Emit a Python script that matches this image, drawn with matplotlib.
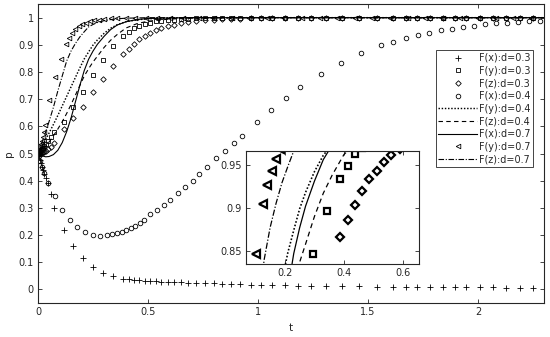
import matplotlib
matplotlib.use("Agg")
import matplotlib.pyplot as plt

plt.rcParams['font.family'] = ['DejaVu Sans']

# ---------------- data ----------------
# d = 0.3 (marker series share this time grid)
t03 = [0, 0.004, 0.008, 0.012, 0.017, 0.022, 0.028, 0.035, 0.045, 0.058, 0.074, 0.118,
       0.16, 0.203, 0.248, 0.295, 0.342, 0.387, 0.413, 0.437, 0.461, 0.486, 0.51, 0.535,
       0.56, 0.59, 0.62, 0.65, 0.684, 0.72, 0.76, 0.80, 0.837, 0.875, 0.92, 0.967, 1.015,
       1.063, 1.122, 1.182, 1.243, 1.307, 1.382, 1.461, 1.541, 1.613, 1.673, 1.724, 1.782,
       1.839, 1.895, 1.947, 2.008, 2.067, 2.126, 2.19, 2.25]
Fx03 = [0.5, 0.49, 0.477, 0.465, 0.452, 0.44, 0.425, 0.41, 0.39, 0.35, 0.30, 0.22, 0.158,
        0.115, 0.082, 0.061, 0.048, 0.040, 0.037, 0.035, 0.033, 0.032, 0.031, 0.030, 0.029,
        0.028, 0.027, 0.026, 0.025, 0.024, 0.023, 0.022, 0.021, 0.020, 0.019, 0.018, 0.017,
        0.016, 0.015, 0.014, 0.013, 0.012, 0.011, 0.011, 0.010, 0.010, 0.010, 0.009, 0.009,
        0.009, 0.008, 0.008, 0.008, 0.008, 0.007, 0.007, 0.007]
Fy03 = [0.5, 0.504, 0.508, 0.512, 0.517, 0.522, 0.528, 0.535, 0.545, 0.56, 0.578, 0.615,
        0.67, 0.726, 0.79, 0.846, 0.896, 0.934, 0.949, 0.962, 0.97, 0.977, 0.982, 0.986,
        0.989, 0.991, 0.993, 0.995, 0.996, 0.997, 0.998, 0.998, 0.999, 0.999, 0.999, 1.0,
        1.0, 1.0, 1.0, 1.0, 1.0, 1.0, 1.0, 1.0, 1.0, 1.0, 1.0, 1.0, 1.0, 1.0, 1.0, 1.0,
        1.0, 1.0, 1.0, 1.0, 1.0]
Fz03 = [0.5, 0.5, 0.501, 0.502, 0.503, 0.505, 0.507, 0.51, 0.515, 0.524, 0.54, 0.59,
        0.631, 0.673, 0.725, 0.775, 0.823, 0.866, 0.886, 0.903, 0.92, 0.933, 0.943, 0.953,
        0.961, 0.968, 0.974, 0.979, 0.983, 0.987, 0.99, 0.992, 0.994, 0.995, 0.996, 0.997,
        0.998, 0.998, 0.999, 0.999, 1.0, 1.0, 1.0, 1.0, 1.0, 1.0, 1.0, 1.0, 1.0, 1.0, 1.0,
        1.0, 1.0, 1.0, 1.0, 1.0, 1.0]

# d = 0.4, F(x) markers
t04 = [0, 0.004, 0.009, 0.017, 0.025, 0.047, 0.077, 0.11, 0.145, 0.178, 0.213, 0.248,
       0.281, 0.314, 0.337, 0.36, 0.381, 0.402, 0.422, 0.443, 0.463, 0.483, 0.511, 0.541,
       0.572, 0.602, 0.637, 0.67, 0.704, 0.734, 0.77, 0.81, 0.85, 0.89, 0.928, 0.995, 1.06,
       1.128, 1.193, 1.285, 1.377, 1.468, 1.559, 1.615, 1.672, 1.727, 1.778, 1.83, 1.88,
       1.93, 1.98, 2.03, 2.08, 2.13, 2.18, 2.23, 2.28]
Fx04 = [0.5, 0.49, 0.474, 0.452, 0.428, 0.39, 0.343, 0.293, 0.254, 0.228, 0.211, 0.202,
        0.197, 0.199, 0.204, 0.208, 0.213, 0.219, 0.226, 0.234, 0.243, 0.255, 0.276, 0.293,
        0.309, 0.33, 0.353, 0.376, 0.40, 0.425, 0.452, 0.482, 0.51, 0.538, 0.566, 0.615,
        0.661, 0.704, 0.744, 0.793, 0.835, 0.869, 0.898, 0.911, 0.924, 0.936, 0.945, 0.953,
        0.96, 0.966, 0.971, 0.975, 0.979, 0.982, 0.985, 0.987, 0.989]

# line series (sampled along the drawn curves)
tl = [0, 0.01, 0.02, 0.035, 0.05, 0.07, 0.09, 0.11, 0.13, 0.15, 0.17, 0.19, 0.21, 0.23,
      0.25, 0.27, 0.3, 0.33, 0.36, 0.4, 0.45, 0.5, 0.6, 0.7, 0.85, 1.0, 1.5, 2.3]
Fy04 = [0.5, 0.515, 0.53, 0.552, 0.575, 0.607, 0.64, 0.675, 0.71, 0.745, 0.78, 0.815,
        0.848, 0.874, 0.899, 0.918, 0.942, 0.961, 0.974, 0.985, 0.992, 0.996, 0.998, 0.999,
        1.0, 1.0, 1.0, 1.0]
Fz04 = [0.5, 0.507, 0.515, 0.528, 0.542, 0.565, 0.59, 0.617, 0.647, 0.68, 0.715, 0.75,
        0.785, 0.812, 0.837, 0.858, 0.89, 0.917, 0.938, 0.962, 0.978, 0.987, 0.995, 0.998,
        0.999, 1.0, 1.0, 1.0]
Fx07 = [0.5, 0.495, 0.491, 0.488, 0.489, 0.496, 0.512, 0.54, 0.58, 0.63, 0.69, 0.75,
        0.805, 0.847, 0.877, 0.902, 0.931, 0.956, 0.973, 0.985, 0.993, 0.997, 0.999, 1.0,
        1.0, 1.0, 1.0, 1.0]
Fz07 = [0.5, 0.522, 0.545, 0.58, 0.617, 0.67, 0.73, 0.785, 0.84, 0.877, 0.905, 0.929,
        0.948, 0.966, 0.975, 0.982, 0.989, 0.993, 0.996, 0.998, 0.999, 1.0, 1.0, 1.0,
        1.0, 1.0, 1.0, 1.0]

# d = 0.7, F(y) markers
t07 = [0, 0.002, 0.004, 0.007, 0.01, 0.013, 0.017, 0.021, 0.026, 0.032, 0.051, 0.077,
       0.103, 0.127, 0.141, 0.155, 0.17, 0.185, 0.2, 0.218, 0.236, 0.255, 0.275, 0.3, 0.33,
       0.36, 0.4, 0.44, 0.49, 0.54, 0.6, 0.66, 0.73, 0.8, 0.88, 0.96, 1.04, 1.12, 1.2,
       1.28, 1.36, 1.44, 1.52, 1.6, 1.68, 1.76, 1.84, 1.92, 2.0, 2.08, 2.16, 2.24]
Fy07 = [0.5, 0.505, 0.51, 0.518, 0.526, 0.535, 0.546, 0.56, 0.578, 0.605, 0.697, 0.78,
        0.847, 0.904, 0.926, 0.943, 0.957, 0.968, 0.976, 0.982, 0.987, 0.99, 0.993, 0.995,
        0.997, 0.998, 0.999, 0.999, 1.0, 1.0, 1.0, 1.0, 1.0, 1.0, 1.0, 1.0, 1.0, 1.0, 1.0,
        1.0, 1.0, 1.0, 1.0, 1.0, 1.0, 1.0, 1.0, 1.0, 1.0, 1.0, 1.0, 1.0]

labels = ['F(x):d=0.3', 'F(y):d=0.3', 'F(z):d=0.3', 'F(x):d=0.4', 'F(y):d=0.4',
          'F(z):d=0.4', 'F(x):d=0.7', 'F(y):d=0.7', 'F(z):d=0.7']
xticks_main = [0, 0.5, 1, 1.5, 2]
yticks_main = [0, 0.1, 0.2, 0.3, 0.4, 0.5, 0.6, 0.7, 0.8, 0.9, 1]
xticks_in = [0.2, 0.4, 0.6]
yticks_in = [0.85, 0.9, 0.95]

# ---------------- drawing ----------------
GREY = '#262626'
fig = plt.figure(figsize=(5.5, 3.37), dpi=100)
ax = fig.add_axes([0.0691, 0.1009, 0.92, 0.887])


def draw(a, ms_scale=1.0, mew=0.6, lw=0.8):
    h = []
    h += a.plot(t03, Fx03, ls='none', marker='+', ms=4.0 * ms_scale, mew=mew, color='k')
    h += a.plot(t03, Fy03, ls='none', marker='s', ms=2.8 * ms_scale, mew=mew, mfc='none', color='k')
    h += a.plot(t03, Fz03, ls='none', marker='D', ms=2.8 * ms_scale, mew=mew, mfc='none', color='k')
    h += a.plot(t04, Fx04, ls='none', marker='o', ms=3.3 * ms_scale, mew=mew, mfc='none', color='k')
    h += a.plot(tl, Fy04, ls=(0, (1, 1.2)), lw=lw * 1.3, color='k')
    h += a.plot(tl, Fz04, ls=(0, (4, 3)), lw=lw, color='k')
    h += a.plot(tl, Fx07, ls='-', lw=lw, color='k')
    h += a.plot(t07, Fy07, ls='none', marker='<', ms=3.3 * ms_scale, mew=mew, mfc='none', color='k')
    h += a.plot(tl, Fz07, ls=(0, (5, 1.5, 1, 1.5)), lw=lw, color='k')
    return h


handles = draw(ax)


def style(a, fs):
    for s in a.spines.values():
        s.set_color(GREY)
        s.set_linewidth(0.8)
    a.tick_params(direction='in', top=True, right=True, length=3, width=0.6,
                  colors=GREY, labelsize=fs, pad=3)


ax.set_xlim(0, 2.3)
ax.set_ylim(-0.05, 1.05)
ax.set_xticks(xticks_main)
ax.set_xticklabels(['0', '0.5', '1', '1.5', '2'])
ax.set_yticks(yticks_main)
ax.set_yticklabels(['0', '0.1', '0.2', '0.3', '0.4', '0.5', '0.6', '0.7', '0.8', '0.9', '1'])
style(ax, 7)
ax.set_xlabel('t', fontsize=7.5, color=GREY, labelpad=4)
ax.set_ylabel('p', fontsize=7.5, color=GREY, labelpad=3)

leg = ax.legend(handles, labels, loc='upper right',
                bbox_to_anchor=(533 / 550, 1 - 50 / 337), bbox_transform=fig.transFigure,
                fontsize=6.9, frameon=True, fancybox=False, framealpha=1,
                edgecolor=GREY, borderaxespad=0, handlelength=4.0, handletextpad=0.2,
                labelspacing=0.28, borderpad=0.3, markerfirst=True)
leg.get_frame().set_linewidth(0.6)
for txt in leg.get_texts():
    txt.set_color(GREY)

# inset
axi = fig.add_axes([0.447, 0.217, 0.315, 0.335])
draw(axi, ms_scale=1.6, mew=1.6, lw=0.9)
axi.set_xlim(0.068, 0.654)
axi.set_ylim(0.835, 0.966)
axi.set_xticks(xticks_in)
axi.set_xticklabels(['0.2', '0.4', '0.6'])
axi.set_yticks(yticks_in)
axi.set_yticklabels(['0.85', '0.9', '0.95'])
style(axi, 7)
axi.set_facecolor('white')

fig.savefig('out.png', dpi=100)
